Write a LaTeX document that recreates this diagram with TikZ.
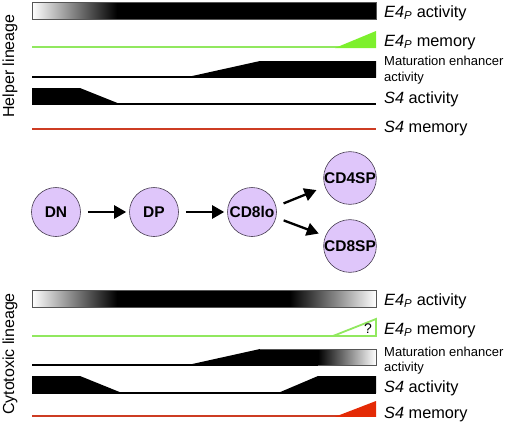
\documentclass[tikz,border=0pt]{standalone}
\usepackage{fontspec}
\setmainfont{Liberation Sans}
\usetikzlibrary{arrows.meta}
\definecolor{cellfill}{RGB}{223,198,250}
\definecolor{cellline}{RGB}{70,60,80}
\definecolor{barline}{RGB}{85,85,85}
\definecolor{greenL}{RGB}{145,232,95}
\definecolor{greenF}{RGB}{125,240,45}
\definecolor{redL}{RGB}{205,60,35}
\definecolor{redF}{RGB}{228,42,5}
\newcommand{\Efour}{\textit{E4}\textsubscript{\textit{P}}}
\begin{document}
\begin{tikzpicture}[x=1pt,y=-1pt,
  cell/.style={circle,draw=cellline,line width=0.6pt,fill=cellfill,minimum size=49pt,inner sep=0pt,font=\fontsize{15.5}{15.5}\selectfont\bfseries},
  flow/.style={line width=2.3pt,-{Triangle[length=12pt,width=13pt]}},
  lab/.style={anchor=base west,inner sep=0pt,font=\fontsize{16.3}{16.3}\selectfont},
  slab/.style={anchor=base west,inner sep=0pt,font=\fontsize{13}{13}\selectfont},
  side/.style={rotate=90,inner sep=0pt,font=\fontsize{16}{16}\selectfont},
  bar/.style={draw=barline,line width=0.8pt},
  base/.style={line width=1.3pt,black},
  gline/.style={line width=1.8pt,greenL},
  rline/.style={line width=1.6pt,redL}]
\useasboundingbox (0,0) rectangle (508,423);

% ---------- Helper lineage ----------
\node[side] (helper) at (10,66) {Helper lineage};

% E4P activity
\shade[left color=white,right color=black] (32,2) rectangle (117,19);
\fill[black] (117,2) rectangle (376,19);
\draw[bar] (32,2) rectangle (376,19);
% E4P memory
\draw[gline] (32,47) -- (376,47);
\fill[greenF] (335,48) -- (376,31) -- (376,48) -- cycle;
% Maturation enhancer
\draw[base] (32,77) -- (376,77);
\fill[black] (185,77.6) -- (260,61) -- (376,61) -- (376,77.6) -- cycle;
% S4 activity
\fill[black] (32,88) -- (80,88) -- (120,104) -- (32,104) -- cycle;
\draw[base] (32,104) -- (376,104);
% S4 memory
\draw[rline] (32,129) -- (376,129);

\node[lab] (h1) at (384,17) {\Efour{} activity};
\node[lab] (h2) at (384,46) {\Efour{} memory};
\node[slab] (h3) at (384,65) {Maturation enhancer};
\node[slab] (h3b) at (384,81) {activity};
\node[lab] (h4) at (384,103) {\textit{S4} activity};
\node[lab] (h5) at (384,132) {\textit{S4} memory};

% ---------- Cell stages ----------
\node[cell] (DN) at (56,212) {DN};
\node[cell] (DP) at (154,212) {DP};
\node[cell] (CD8lo) at (252,212) {CD8lo};
\node[cell] (CD4SP) at (350,178) {CD4SP};
\node[cell] (CD8SP) at (350,246) {CD8SP};

\draw[flow,shorten <=7pt,shorten >=3pt] (DN) -- (DP);
\draw[flow,shorten <=7pt,shorten >=3pt] (DP) -- (CD8lo);
\draw[flow,shorten <=8pt,shorten >=9pt] (CD8lo.13) -- (CD4SP.199);
\draw[flow,shorten <=8pt,shorten >=7pt] (CD8lo.-13) -- (CD8SP.158);

% ---------- Cytotoxic lineage ----------
\node[side] (cyto) at (10,354) {Cytotoxic lineage};

% E4P activity
\shade[left color=white,right color=black] (32,290) rectangle (117,307);
\fill[black] (117,290) rectangle (290,307);
\shade[left color=black,right color=white] (290,290) rectangle (376,307);
\draw[bar] (32,290) rectangle (376,307);
% E4P memory
\draw[gline] (32,336) -- (376,336);
\draw[gline,line join=miter] (333,336) -- (376,319) -- (376,336) -- cycle;
\node[font=\fontsize{14}{14}\selectfont,inner sep=0pt] (q) at (368,329) {?};
% Maturation enhancer
\draw[base] (32,365) -- (318,365);
\fill[black] (185,365.6) -- (260,349) -- (318,349) -- (318,365.6) -- cycle;
\shade[left color=black,right color=white] (318,349) rectangle (376,365);
\draw[bar] (260,349) -- (376,349) -- (376,365) -- (318,365);
% S4 activity
\fill[black] (32,376) -- (80,376) -- (122,393) -- (278,393) -- (318,376) -- (376,376) -- (376,393) -- (32,393) -- cycle;
\draw[base] (32,393) -- (376,393);
% S4 memory
\draw[rline] (32,416) -- (376,416);
\fill[redF] (335,416.8) -- (376,401) -- (376,416.8) -- cycle;

\node[lab] (c1) at (384,305) {\Efour{} activity};
\node[lab] (c2) at (384,334) {\Efour{} memory};
\node[slab] (c3) at (384,356) {Maturation enhancer};
\node[slab] (c3b) at (384,371) {activity};
\node[lab] (c4) at (384,392) {\textit{S4} activity};
\node[lab] (c5) at (384,418) {\textit{S4} memory};
\end{tikzpicture}
\end{document}
